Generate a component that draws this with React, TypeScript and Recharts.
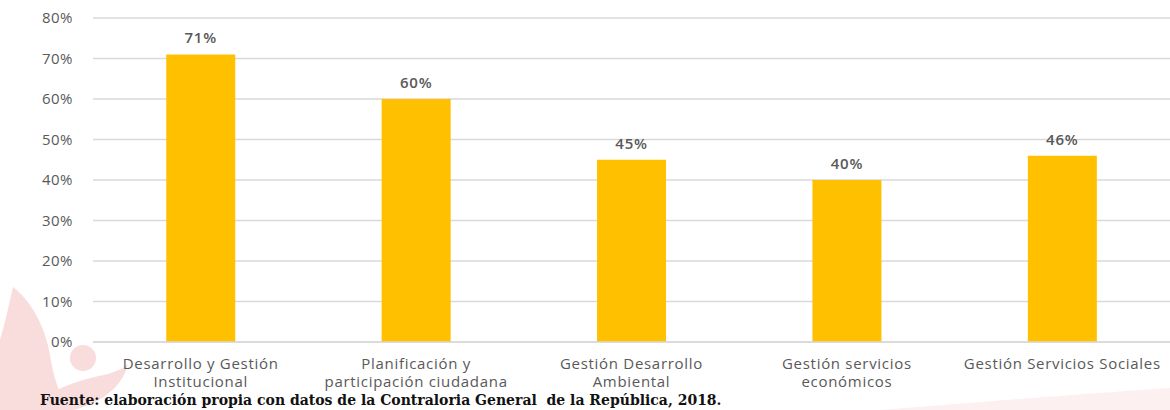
import { Bar, BarChart, CartesianGrid, LabelList, XAxis, YAxis } from "recharts";

const categories = [
  "Desarrollo y Gestión Institucional",
  "Planificación y participación ciudadana",
  "Gestión Desarrollo Ambiental",
  "Gestión servicios económicos",
  "Gestión Servicios Sociales",
];
const tickLines = [
  ["Desarrollo y Gestión", "Institucional"],
  ["Planificación y", "participación ciudadana"],
  ["Gestión Desarrollo", "Ambiental"],
  ["Gestión servicios", "económicos"],
  ["Gestión Servicios Sociales"],
];
const values = [71, 60, 45, 40, 46];
const yTicks = [0, 10, 20, 30, 40, 50, 60, 70, 80];
const source = "Fuente: elaboración propia con datos de la Contraloria General  de la República, 2018.";

const data = categories.map((name, i) => ({ name, value: values[i] }));

const textColor = "#595959";
const gridColor = "#d9d9d9";
const font = "'Open Sans', sans-serif";

function CategoryTick(props: any) {
  const { x, y, index } = props;
  const lines = tickLines[index] || [];
  return (
    <text x={x} y={y} textAnchor="middle" fill={textColor} fontSize={15} fontFamily={font} letterSpacing={0.7}>
      {lines.map((l, i) => (
        <tspan key={i} x={x} y={y + 19 + i * 18}>{l}</tspan>
      ))}
    </text>
  );
}

function Watermark() {
  return (
    <svg width={1170} height={410} style={{ position: "absolute", left: 0, top: 0 }}>
      <g fill="#f2b3b3" opacity={0.45}>
        <path d="M13 287 C 30 300, 45 325, 50 355 C 54 380, 60 400, 75 410 L 0 410 L 0 340 C 6 320, 10 300, 13 287 Z" />
        <circle cx={83} cy={358} r={13} />
        <path d="M30 410 C 50 388, 80 380, 108 374 C 118 371, 124 368, 128 364 C 122 390, 96 404, 74 410 Z" />
      </g>
      <path d="M880 410 C 980 402, 1080 394, 1170 388 L 1170 410 Z" fill="#f3c4c4" opacity={0.25} />
    </svg>
  );
}

export default function App() {
  return (
    <div style={{ position: "absolute", left: 0, top: 0, width: 1170, height: 410, background: "#fff" }}>
      <Watermark />
      <div style={{ position: "absolute", left: 0, top: 0 }}>
        <BarChart width={1170} height={410} data={data} margin={{ top: 18, right: 0, left: 0, bottom: 20 }} barCategoryGap="34%">
          <CartesianGrid horizontal vertical={false} stroke={gridColor} strokeWidth={1.5} />
          <XAxis
            dataKey="name"
            axisLine={{ stroke: gridColor, strokeWidth: 1.5 }}
            tickLine={false}
            tick={<CategoryTick />}
            height={48}
            interval={0}
          />
          <YAxis
            domain={[0, 80]}
            ticks={yTicks}
            tickFormatter={(v: number) => `${v}%`}
            axisLine={false}
            tickLine={false}
            tickSize={0}
            tickMargin={20}
            width={93}
            tick={{ fill: textColor, fontSize: 15, fontFamily: font, letterSpacing: 0.5 }}
          />
          <Bar dataKey="value" fill="#ffc000" isAnimationActive={false}>
            <LabelList
              dataKey="value"
              position="top"
              offset={11}
              formatter={(v: any) => `${v}%`}
              style={{ fill: textColor, fontSize: 15, fontFamily: font, fontWeight: 600, letterSpacing: 0.8 }}
            />
          </Bar>
        </BarChart>
      </div>
      <div
        style={{
          position: "absolute",
          left: 40,
          top: 392,
          fontFamily: "'DejaVu Serif', serif",
          fontWeight: "bold",
          fontSize: 14,
          lineHeight: "16px",
          color: "#111",
          whiteSpace: "pre",
        }}
      >
        {source}
      </div>
    </div>
  );
}
